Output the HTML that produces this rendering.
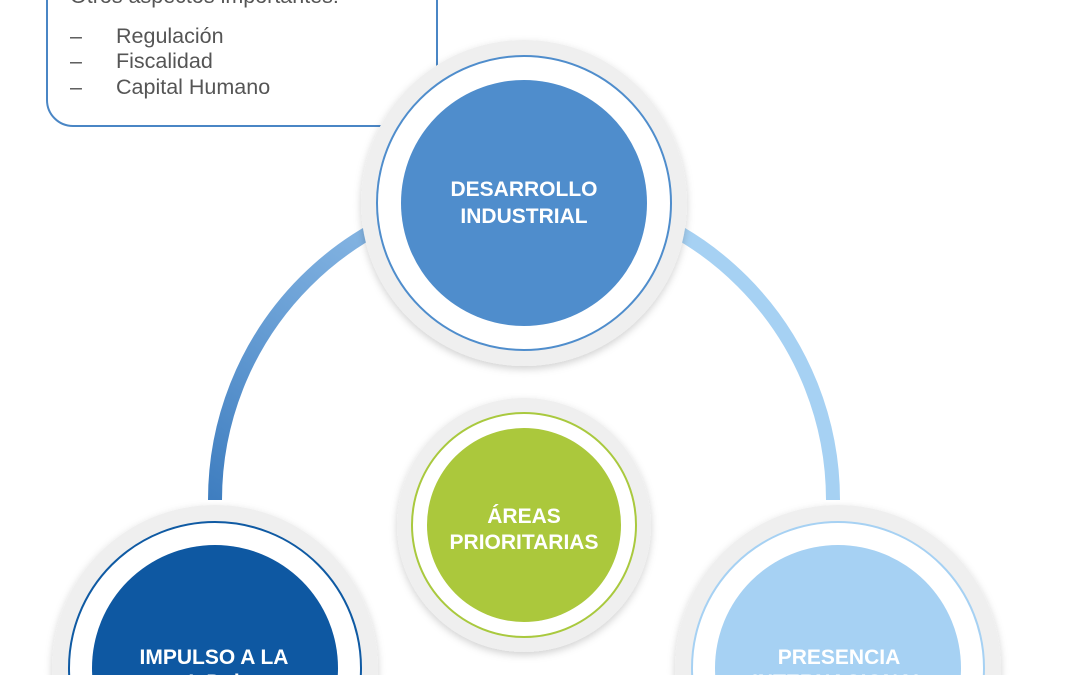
<!DOCTYPE html>
<html><head><meta charset="utf-8"><style>
html,body{margin:0;width:1080px;height:675px;overflow:hidden;background:#fff;font-family:"Liberation Sans",sans-serif}
svg{display:block}
</style></head><body>
<svg width="1080" height="675" viewBox="0 0 1080 675" xmlns="http://www.w3.org/2000/svg">
<defs>
<linearGradient id="gl" x1="0" y1="1" x2="0.6" y2="0"><stop offset="0" stop-color="#3f7ec0"/><stop offset="1" stop-color="#8fbde8"/></linearGradient>
<filter id="sh" x="-20%" y="-20%" width="140%" height="140%"><feDropShadow dx="0" dy="3" stdDeviation="4" flood-color="#000" flood-opacity="0.18"/></filter>
</defs>
<path d="M215,500 A309,309 0 0 1 524,191" fill="none" stroke="url(#gl)" stroke-width="14"/>
<path d="M524,191 A309,309 0 0 1 833,500" fill="none" stroke="#a6d1f3" stroke-width="14"/>
<rect x="47" y="-30" width="390" height="156" rx="26" fill="#fff" stroke="#4a86c5" stroke-width="2"/>
<g font-size="21.5" fill="#555">
<text x="70" y="3">Otros aspectos importantes:</text>
<text x="70" y="43">–</text><text x="116" y="43">Regulación</text>
<text x="70" y="68">–</text><text x="116" y="68">Fiscalidad</text>
<text x="70" y="94">–</text><text x="116" y="94">Capital Humano</text>
</g>
<g filter="url(#sh)"><circle cx="524" cy="203" r="163" fill="#efefef"/></g>
<circle cx="524" cy="203" r="147" fill="#fff" stroke="#4f8dcc" stroke-width="2"/>
<circle cx="524" cy="203" r="123" fill="#4f8dcc"/>
<g filter="url(#sh)"><circle cx="524" cy="525" r="127" fill="#efefef"/></g>
<circle cx="524" cy="525" r="112" fill="#fff" stroke="#a9c93e" stroke-width="2"/>
<circle cx="524" cy="525" r="97" fill="#abc83c"/>
<g filter="url(#sh)"><circle cx="215" cy="668" r="163" fill="#efefef"/></g>
<circle cx="215" cy="668" r="146" fill="#fff" stroke="#0f5aa3" stroke-width="2"/>
<circle cx="215" cy="668" r="123" fill="#0e58a2"/>
<g filter="url(#sh)"><circle cx="838" cy="668" r="163" fill="#efefef"/></g>
<circle cx="838" cy="668" r="146" fill="#fff" stroke="#a6d1f3" stroke-width="2"/>
<circle cx="838" cy="668" r="123" fill="#a6d1f3"/>
<g font-size="21" font-weight="bold" fill="#fff" text-anchor="middle">
<text x="524" y="196">DESARROLLO</text><text x="524" y="223">INDUSTRIAL</text>
<text x="524" y="523">ÁREAS</text><text x="524" y="549">PRIORITARIAS</text>
<text x="214" y="664">IMPULSO A LA</text><text x="214" y="689">I+D+i</text>
<text x="839" y="664">PRESENCIA</text><text x="839" y="689">INTERNACIONAL</text>
</g>
</svg>
</body></html>
